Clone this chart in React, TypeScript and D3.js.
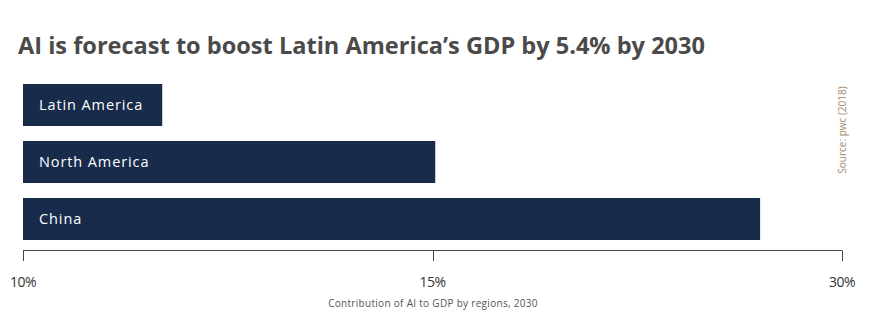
import React from "react";
import * as d3 from "d3";

const title = "AI is forecast to boost Latin America\u2019s GDP by 5.4% by 2030";
const categories = ["Latin America", "North America", "China"];
const values = [11.7, 15.1, 27.0];
const tickValues = [10, 15, 30];
const tickLabels = ["10%", "15%", "30%"];
const axisTitle = "Contribution of AI to GDP by regions, 2030";
const sourceText = "Source: pwc (2018)";

export default function App() {
  const W = 887, H = 323;
  const xs = d3.scaleLinear().domain(tickValues).range([23, 432.5, 842]);
  const y = d3.scaleBand().domain(categories).range([84, 240]).paddingInner(15 / 57).paddingOuter(0);
  const axisY = 250.5;
  return (
    <svg width={W} height={H} style={{ position: "absolute", left: 0, top: 0, background: "#fff" }}>
      <text x={18} y={54} fontFamily="'Open Sans', sans-serif" fontWeight={700} fontSize={22.5} fill="#4a4a4a" textLength={687} lengthAdjust="spacingAndGlyphs">{title}</text>
      {categories.map((c, i) => (
        <g key={c}>
          <rect x={xs(10)} y={y(c)} width={xs(values[i]) - xs(10)} height={y.bandwidth()} fill="#182b4a" />
          <text x={39} y={(y(c) as number) + y.bandwidth() / 2} dy="0.35em" fontFamily="'Open Sans', sans-serif" fontSize={14.5} letterSpacing={0.9} fill="#ffffff">{c}</text>
        </g>
      ))}
      <line x1={xs(10)} x2={xs(30)} y1={axisY} y2={axisY} stroke="#444" strokeWidth={1} />
      {tickValues.map((t, i) => (
        <g key={t}>
          <line x1={Math.round(xs(t)) + 0.5} x2={Math.round(xs(t)) + 0.5} y1={axisY} y2={261} stroke="#444" strokeWidth={1} />
          <text x={xs(t)} y={287} textAnchor="middle" fontFamily="'Open Sans', sans-serif" fontSize={14} fill="#333" letterSpacing={-0.5}>{tickLabels[i]}</text>
        </g>
      ))}
      <text x={433} y={307} textAnchor="middle" fontFamily="'Open Sans', sans-serif" fontSize={10} letterSpacing={0.3} fill="#555">{axisTitle}</text>
      <text transform={`translate(846, 130) rotate(-90)`} textAnchor="middle" fontFamily="'Open Sans', sans-serif" fontSize={10} fill="#a48a6a">{sourceText}</text>
    </svg>
  );
}
